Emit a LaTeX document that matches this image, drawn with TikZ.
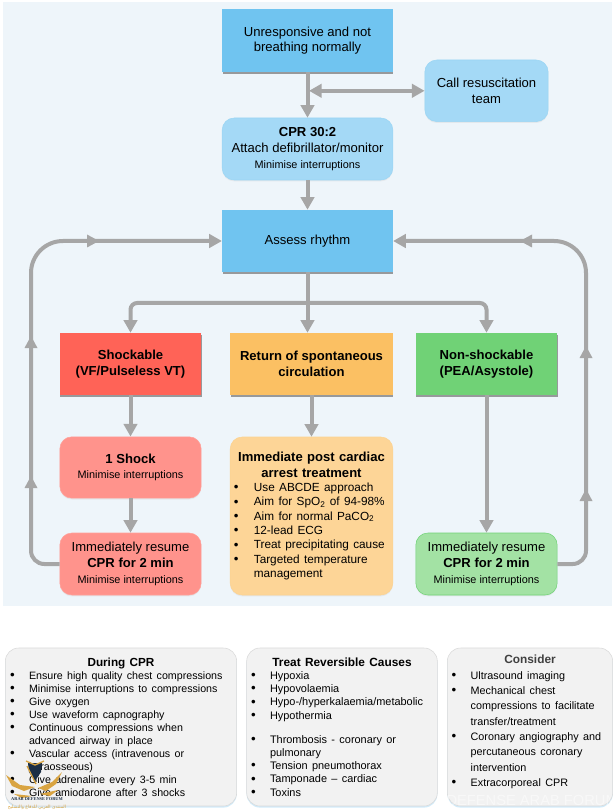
\documentclass[tikz,border=0pt]{standalone}
\usepackage{fontspec}
\setmainfont{Liberation Sans}
\newfontfamily\arabicfont[Script=Arabic]{DejaVu Sans}
\newfontfamily\wmserif{Liberation Serif}
\TeXXeTstate=1
\usetikzlibrary{arrows.meta,shadows}
\definecolor{bgc}{HTML}{EEF5FA}
\definecolor{blueA}{HTML}{70C4F0}
\definecolor{blueB}{HTML}{A4D9F6}
\definecolor{redA}{HTML}{FF6357}
\definecolor{redB}{HTML}{FF938C}
\definecolor{orA}{HTML}{FBC063}
\definecolor{orB}{HTML}{FDD597}
\definecolor{grA}{HTML}{70D276}
\definecolor{grB}{HTML}{A3E2A4}
\definecolor{lineg}{HTML}{A6A6A6}
\definecolor{panel}{HTML}{F2F2F2}
\definecolor{goldw}{HTML}{D9A441}
\definecolor{navyw}{HTML}{1C2F45}
\newlength{\pxu}\setlength{\pxu}{0.75pt}
\newcommand{\fm}{\fontsize{9.8pt}{11.75pt}\selectfont}
\newcommand{\fs}{\fontsize{8.15pt}{10.8pt}\selectfont}
\newcommand{\brk}{\hfil\break}
\newcommand{\bitem}[2]{\par\noindent\hangindent=#1\pxu\hangafter=1 \makebox[#1\pxu][l]{\hspace{1\pxu}\raisebox{-0.2pt}{\fontsize{10pt}{0pt}\selectfont\textbullet}}#2}
\hyphenpenalty=10000
\tikzset{
  x=0.75pt,y=-0.75pt,
  recbox/.style={rectangle,draw=none,align=center,inner sep=0pt,font=\fm,
    drop shadow={shadow xshift=0.3pt,shadow yshift=-1.6pt,fill=black!55,opacity=.7}},
  rndbox/.style={rectangle,rounded corners=9pt,align=center,inner sep=0pt,font=\fm,
    drop shadow={shadow xshift=0pt,shadow yshift=-1pt,fill=black!20,opacity=.3}},
  panelbox/.style={rectangle,rounded corners=10pt,draw=black!15,fill=panel,inner sep=0pt,font=\fm,
    drop shadow={shadow xshift=0pt,shadow yshift=-1.2pt,fill=blueB,opacity=.5}},
  flow/.style={draw=lineg,line width=3pt,-{Triangle[length=9.5pt,width=10pt]}},
  flowb/.style={draw=lineg,line width=3pt,{Triangle[length=9.5pt,width=10pt]}-{Triangle[length=9.5pt,width=10pt]}},
  mid/.style={fill=lineg,draw=none},
}
\begin{document}
\begin{tikzpicture}
\useasboundingbox (0,0) rectangle (614,812);
\fill[white] (0,0) rectangle (614,812);
\fill[bgc] (3,2) rectangle (612,606);
\node[recbox,fill=blueA,minimum width=128pt,minimum height=46.8pt] (start) at (307.5,40.5) {Unresponsive and not\\breathing normally};
\node[rndbox,fill=blueB,draw=blueA!70,minimum width=92.5pt,minimum height=46.2pt] (team) at (486.5,90.8) {Call resuscitation\\team};
\node[rndbox,fill=blueB,draw=blueA!70,minimum width=128pt,minimum height=46.5pt] (cpr) at (307.5,149) {\textbf{CPR 30:2}\\Attach defibrillator/monitor\\{\fs Minimise interruptions}};
\node[recbox,fill=blueA,minimum width=128pt,minimum height=46.5pt] (assess) at (307.5,241) {Assess rhythm};
\node[recbox,fill=redA,minimum width=106pt,minimum height=46.5pt] (shock) at (130.5,364) {\textbf{Shockable}\\\textbf{(VF/Pulseless VT)}};
\node[recbox,fill=orA,minimum width=122pt,minimum height=46.5pt] (rosc) at (311.5,364) {\textbf{Return of spontaneous}\\\textbf{circulation}};
\node[recbox,fill=grA,minimum width=106pt,minimum height=46.5pt] (nons) at (486.5,364) {\textbf{Non-shockable}\\\textbf{(PEA/Asystole)}};
\node[rndbox,fill=redB,draw=redA!60,minimum width=106pt,minimum height=46pt] (one) at (130.5,467.5) {\textbf{1 Shock}\\{\fs Minimise interruptions}};
\node[rndbox,fill=redB,draw=redA!60,minimum width=106pt,minimum height=46.5pt] (resl) at (130.5,564) {Immediately resume\\\textbf{CPR for 2 min}\\{\fs Minimise interruptions}};
\node[rndbox,fill=grB,draw=grA,minimum width=106pt,minimum height=46.5pt] (resr) at (486.5,564) {Immediately resume\\\textbf{CPR for 2 min}\\{\fs Minimise interruptions}};
\node[rndbox,fill=orB,draw=orA!70,minimum width=122pt,minimum height=118.5pt,text width=118pt,align=left] (post) at (311.5,516) {%
  {\centering\textbf{Immediate post cardiac}\break\textbf{arrest treatment}\par}
  \fontsize{8.85pt}{10.75pt}\selectfont
  \bitem{21}{Use ABCDE approach}
  \bitem{21}{Aim for SpO\textsubscript{2} of 94-98\%}
  \bitem{21}{Aim for normal PaCO\textsubscript{2}}
  \bitem{21}{12-lead ECG}
  \bitem{21}{Treat precipitating cause}
  \bitem{21}{Targeted temperature\brk management}\par};
\node[panelbox,minimum width=173.5pt,minimum height=118.5pt,text width=168pt,align=left] (during) at (121,727) {%
  \fontsize{8pt}{9.75pt}\selectfont
  {\centering\fontsize{8.8pt}{10.5pt}\selectfont\textbf{During CPR}\par}
  \bitem{20}{Ensure high quality chest compressions}
  \bitem{20}{Minimise interruptions to compressions}
  \bitem{20}{Give oxygen}
  \bitem{20}{Use waveform capnography}
  \bitem{20}{Continuous compressions when\brk advanced airway in place}
  \bitem{20}{Vascular access (intravenous or\brk intraosseous)}
  \bitem{20}{Give adrenaline every 3-5 min}
  \bitem{20}{Give amiodarone after 3 shocks}\par};
\node[panelbox,minimum width=143pt,minimum height=118.5pt,text width=138pt,align=left] (causes) at (342,727) {%
  \fontsize{8.2pt}{9.95pt}\selectfont
  {\centering\fontsize{8.9pt}{10.5pt}\selectfont\textbf{Treat Reversible Causes}\par}
  \bitem{20}{Hypoxia}
  \bitem{20}{Hypovolaemia}
  \bitem{20}{Hypo-/hyperkalaemia/metabolic}
  \bitem{20}{Hypothermia}\vspace{8pt}
  \bitem{20}{Thrombosis - coronary or\brk pulmonary}
  \bitem{20}{Tension pneumothorax}
  \bitem{20}{Tamponade -- cardiac}
  \bitem{20}{Toxins}\par};
\node[panelbox,minimum width=124pt,minimum height=118.5pt,text width=119pt,align=left] (consider) at (530,727) {%
  \fontsize{8.1pt}{11.5pt}\selectfont
  {\centering\fontsize{8.9pt}{11pt}\selectfont\textcolor{black!75}{\textbf{Consider}}\par}
  \bitem{20}{Ultrasound imaging}
  \bitem{20}{Mechanical chest\brk compressions to facilitate\brk transfer/treatment}
  \bitem{20}{Coronary angiography and\brk percutaneous coronary\brk intervention}
  \bitem{20}{Extracorporeal CPR}\par\nointerlineskip\hbox{\rule{0pt}{7.5pt}}};
% connectors
\coordinate (junc) at (308,303);
\coordinate (ll) at (31,241);
\coordinate (llb) at (31,564);
\coordinate (rr) at (586,241);
\coordinate (rrb) at (586,564);
\coordinate (tapL) at (309,90.8);
\draw[flow] (start.south) -- (cpr.north);
\draw[flowb] (tapL) -- (team.west);
\draw[flow] (cpr.south) -- (assess.north);
\draw[flow] (assess.south) -- (assess.south |- shock.north);
\draw[flow,rounded corners=5pt] (junc) -| (shock.north);
\draw[flow,rounded corners=5pt] (junc) -| (nons.north);
\draw[flow] (shock.south) -- (one.north);
\draw[flow] (one.south) -- (resl.north);
\draw[flow] (rosc.south) -- (post.north);
\draw[flow] (nons.south) -- (resr.north);
\draw[flow] (resl.west) [rounded corners=10pt] -- (llb) [rounded corners=24pt] -- (ll) -- (assess.west);
\draw[flow] (resr.east) [rounded corners=10pt] -- (rrb) [rounded corners=24pt] -- (rr) -- (assess.east);
\fill[mid] (24.5,348) -- (37.5,348) -- (31,336) -- cycle;
\fill[mid] (24.5,488) -- (37.5,488) -- (31,476) -- cycle;
\fill[mid] (579.5,358) -- (592.5,358) -- (586,346) -- cycle;
\fill[mid] (579.5,501) -- (592.5,501) -- (586,489) -- cycle;
\fill[mid] (87,234.5) -- (87,247.5) -- (99,241) -- cycle;
\fill[mid] (532,234.5) -- (532,247.5) -- (520,241) -- cycle;
% watermark
\fill[navyw] (28,763) -- (42,763) -- (41,772) -- (35,781) -- (29,772) -- cycle;
\draw[goldw,line width=1pt] (26,761) -- (35,765) -- (44,761);
\draw[goldw,line width=1pt] (27,766) -- (36,784);
\fill[goldw] (6,775) -- (20,785) -- (35,787) -- (24,791) -- (12,786) -- cycle;
\fill[goldw] (62,772) -- (52,782) -- (38,788) -- (46,791) -- (56,784) -- cycle;
\fill[goldw] (14,794) -- (32,796) -- (22,798) -- cycle;
\fill[goldw] (58,790) -- (40,794) -- (50,796) -- cycle;
\node[font=\wmserif\bfseries\fontsize{3.3pt}{4pt}\selectfont,text=navyw,inner sep=0pt] (wm1) at (37,799.5) {ARAB DEFENSE FORUM};
\node[font=\arabicfont\fontsize{3.4pt}{4pt}\selectfont,text=goldw,inner sep=0pt] (wm2) at (37,807) {\beginR المنتدى العربي للدفاع والتسليح\endR};
\node[font=\fontsize{11pt}{13pt}\selectfont,text=white,opacity=.5,inner sep=0pt,anchor=east] (wm3) at (618,800) {DEFENSE ARAB FORUM};
\end{tikzpicture}
\end{document}
